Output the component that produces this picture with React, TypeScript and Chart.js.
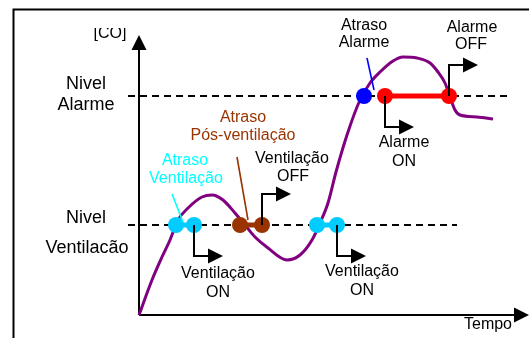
import React, { useEffect, useRef } from 'react';
import { Chart, registerables } from 'chart.js';

Chart.register(...registerables);

// ---- Data (time units on x, [CO] units on y) ----
const curveTime = [0, 13, 23, 31, 39, 49, 63, 73, 84, 96, 106, 116, 129, 148, 161, 173, 181, 189, 197, 208, 221, 231, 241, 254, 264, 278, 291, 299, 306, 311, 316, 321, 338, 354];
const curveCO = [0, 35, 58, 75, 95, 107, 118, 120, 115, 102, 90, 78, 67, 55, 60, 75, 92, 112, 143, 180, 215, 232, 243, 254, 258, 257, 252, 243, 232, 218, 205, 200, 198, 196];

const alarmLevel = 219;
const ventLevel = 90;

const ventDelayStart = [37, 178];
const ventOn = [55, 198];
const postVentDelayStart = [101];
const ventOff = [123];
const alarmDelayStart = [225];
const alarmOn = [246];
const alarmOff = [310];

const levelLineStart = -11;
const alarmLineEnd = 370;
const ventLineEnd = 318;
const yAxisTop = 280;
const xAxisEnd = 390;

const xMin = -139, xMax = 390, yMin = -23, yMax = 315;

const FONT = '"Liberation Sans", Arial, sans-serif';
const CYAN_DOT = '#00ccff';
const CYAN_TXT = '#00ffff';
const BROWN = '#993300';
const PURPLE = '#800080';

type Label = { text: string; t: number; c: number; color: string; size: number; clip?: [number, number] };

const labels: Label[] = [
  { text: '[CO]', t: -29, c: 281, color: '#000', size: 16, clip: [28, 338] },
  { text: 'Nivel', t: -53, c: 231, color: '#000', size: 18 },
  { text: 'Alarme', t: -53, c: 210, color: '#000', size: 18 },
  { text: 'Nivel', t: -53, c: 97, color: '#000', size: 18 },
  { text: 'Ventilação', t: -52, c: 67, color: '#000', size: 18, clip: [0, 253] },
  { text: 'Atraso', t: 46, c: 154, color: CYAN_TXT, size: 16 },
  { text: 'Ventilação', t: 47, c: 136, color: CYAN_TXT, size: 16 },
  { text: 'Atraso', t: 104, c: 197, color: BROWN, size: 16 },
  { text: 'Pós-ventilação', t: 104, c: 179, color: BROWN, size: 16 },
  { text: 'Ventilação', t: 153, c: 156, color: '#000', size: 16 },
  { text: 'OFF', t: 154, c: 138, color: '#000', size: 16 },
  { text: 'Ventilação', t: 79, c: 41, color: '#000', size: 16 },
  { text: 'ON', t: 79, c: 22, color: '#000', size: 16 },
  { text: 'Ventilação', t: 223, c: 43, color: '#000', size: 16 },
  { text: 'ON', t: 223, c: 24, color: '#000', size: 16 },
  { text: 'Atraso', t: 225, c: 289, color: '#000', size: 16 },
  { text: 'Alarme', t: 225, c: 272, color: '#000', size: 16 },
  { text: 'Alarme', t: 333, c: 287, color: '#000', size: 16 },
  { text: 'OFF', t: 332, c: 270, color: '#000', size: 16 },
  { text: 'Alarme', t: 265, c: 172, color: '#000', size: 16 },
  { text: 'ON', t: 265, c: 153, color: '#000', size: 16 },
  { text: 'Tempo', t: 349, c: -10, color: '#000', size: 16 },
];

function headRight(ctx: CanvasRenderingContext2D, x: number, y: number) {
  ctx.beginPath();
  ctx.moveTo(x, y);
  ctx.lineTo(x - 15, y - 7.5);
  ctx.lineTo(x - 15, y + 7.5);
  ctx.closePath();
  ctx.fill();
}
function headUp(ctx: CanvasRenderingContext2D, x: number, y: number) {
  ctx.beginPath();
  ctx.moveTo(x, y);
  ctx.lineTo(x - 7.5, y + 15);
  ctx.lineTo(x + 7.5, y + 15);
  ctx.closePath();
  ctx.fill();
}

const diagramPlugin = {
  id: 'diagram',
  beforeDatasetsDraw(chart: any) {
    const ctx: CanvasRenderingContext2D = chart.ctx;
    const xs = chart.scales.x, ys = chart.scales.y;
    ctx.save();
    // outer frame
    ctx.strokeStyle = '#000';
    ctx.lineWidth = 2;
    ctx.beginPath();
    ctx.moveTo(13.5, chart.height);
    ctx.lineTo(13.5, 9.5);
    ctx.lineTo(chart.width, 9.5);
    ctx.stroke();
    // axes
    const ox = xs.getPixelForValue(0), oy = ys.getPixelForValue(0);
    const yt = ys.getPixelForValue(yAxisTop), xe = xs.getPixelForValue(xAxisEnd);
    ctx.fillStyle = '#000';
    ctx.beginPath();
    ctx.moveTo(ox, oy);
    ctx.lineTo(ox, yt + 14);
    ctx.moveTo(ox, oy);
    ctx.lineTo(xe - 14, oy);
    ctx.stroke();
    headUp(ctx, ox, yt);
    headRight(ctx, xe, oy);
    ctx.restore();
  },
  afterDatasetsDraw(chart: any) {
    const ctx: CanvasRenderingContext2D = chart.ctx;
    const xs = chart.scales.x, ys = chart.scales.y;
    const P = (t: number, c: number) => [xs.getPixelForValue(t), ys.getPixelForValue(c)];
    ctx.save();
    // leader lines
    const leader = (t: number, c: number, dx0: number, dy0: number, dx1: number, dy1: number, color: string) => {
      const [x, y] = P(t, c);
      ctx.strokeStyle = color;
      ctx.lineWidth = 1.6;
      ctx.beginPath();
      ctx.moveTo(x + dx0, y + dy0);
      ctx.lineTo(x + dx1, y + dy1);
      ctx.stroke();
    };
    leader(ventDelayStart[0], ventLevel, -4, -31, 7, -3, CYAN_TXT);
    leader(postVentDelayStart[0], ventLevel, -3, -68, 8, -5, BROWN);
    leader(alarmDelayStart[0], alarmLevel, 3, -38, 10, -6, '#0000ff');

    // step arrows
    ctx.strokeStyle = '#000';
    ctx.fillStyle = '#000';
    ctx.lineWidth = 2;
    const step = (t: number, c: number, up: boolean) => {
      const [x, y] = P(t, c);
      const yy = up ? y - 31 : y + 31;
      ctx.beginPath();
      ctx.moveTo(x, y);
      ctx.lineTo(x, yy);
      ctx.lineTo(x + 16, yy);
      ctx.stroke();
      headRight(ctx, x + 29, yy);
    };
    ventOn.forEach((t) => step(t, ventLevel, false));
    ventOff.forEach((t) => step(t, ventLevel, true));
    alarmOn.forEach((t) => step(t, alarmLevel, false));
    alarmOff.forEach((t) => step(t, alarmLevel, true));

    // labels
    ctx.textAlign = 'center';
    ctx.textBaseline = 'middle';
    labels.forEach((l) => {
      const [x, y] = P(l.t, l.c);
      ctx.save();
      if (l.clip) {
        ctx.beginPath();
        ctx.rect(0, l.clip[0], chart.width, l.clip[1] - l.clip[0]);
        ctx.clip();
      }
      ctx.font = `${l.size}px ${FONT}`;
      ctx.fillStyle = l.color;
      ctx.fillText(l.text, x, y);
      ctx.restore();
    });
    ctx.restore();
  },
};

export default function App() {
  const ref = useRef<HTMLCanvasElement>(null);
  useEffect(() => {
    if (!ref.current) return;
    const pair = (a: number, b: number, lvl: number, color: string, r: number, w: number) => ({
      data: [{ x: a, y: lvl }, { x: b, y: lvl }],
      showLine: true,
      borderColor: color,
      borderWidth: w,
      backgroundColor: color,
      pointBackgroundColor: color,
      pointBorderWidth: 0,
      pointRadius: r,
      pointHoverRadius: r,
    });
    const datasets: any[] = [];
    // dots (top)
    ventDelayStart.forEach((t, i) => datasets.push(pair(t, ventOn[i], ventLevel, CYAN_DOT, 8, 5)));
    postVentDelayStart.forEach((t, i) => datasets.push(pair(t, ventOff[i], ventLevel, BROWN, 8, 5)));
    alarmOn.forEach((t, i) => datasets.push(pair(t, alarmOff[i], alarmLevel, '#ff0000', 8, 5)));
    alarmDelayStart.forEach((t) =>
      datasets.push({
        data: [{ x: t, y: alarmLevel }],
        pointBackgroundColor: '#0000ff',
        backgroundColor: '#0000ff',
        pointBorderWidth: 0,
        pointRadius: 8,
        showLine: false,
      })
    );
    // curve
    datasets.push({
      data: curveTime.map((t, i) => ({ x: t, y: curveCO[i] })),
      showLine: true,
      borderColor: PURPLE,
      borderWidth: 3,
      pointRadius: 0,
      cubicInterpolationMode: 'monotone',
      fill: false,
    });
    // level lines
    datasets.push({
      data: [{ x: levelLineStart, y: alarmLevel }, { x: alarmLineEnd, y: alarmLevel }],
      showLine: true,
      borderColor: '#000',
      borderWidth: 2,
      borderDash: [7, 5],
      pointRadius: 0,
    });
    datasets.push({
      data: [{ x: levelLineStart, y: ventLevel }, { x: ventLineEnd, y: ventLevel }],
      showLine: true,
      borderColor: '#000',
      borderWidth: 2,
      borderDash: [7, 5],
      pointRadius: 0,
    });

    const chart = new Chart(ref.current, {
      type: 'scatter',
      data: { datasets },
      options: {
        animation: false,
        responsive: false,
        devicePixelRatio: 1,
        layout: { padding: 0, autoPadding: false },
        events: [],
        plugins: { legend: { display: false }, tooltip: { enabled: false } },
        scales: {
          x: { type: 'linear', min: xMin, max: xMax, display: false },
          y: { type: 'linear', min: yMin, max: yMax, display: false },
        },
      },
      plugins: [diagramPlugin],
    } as any);
    return () => chart.destroy();
  }, []);
  return (
    <div style={{ position: 'fixed', left: 0, top: 0, width: 529, height: 338, background: '#fff' }}>
      <canvas ref={ref} width={529} height={338} style={{ display: 'block' }} />
    </div>
  );
}
